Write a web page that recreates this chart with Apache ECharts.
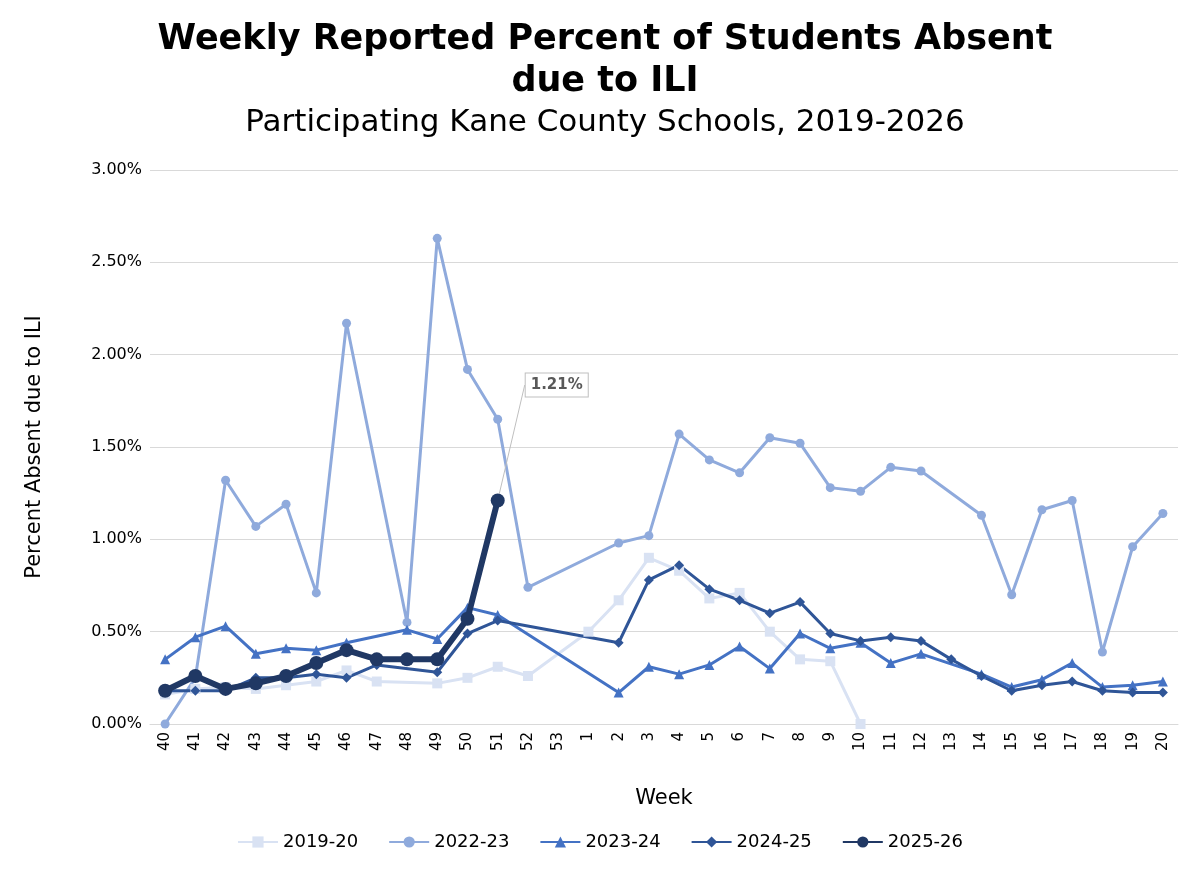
<!DOCTYPE html><html><head><meta charset="utf-8"><script src="https://cdn.jsdelivr.net/npm/echarts@6/dist/echarts.min.js"></script>
<style>body{margin:0;background:#fff}#c{width:1200px;height:872px}</style></head><body><div id="c"></div><script>
const weeks=['40','41','42','43','44','45','46','47','48','49','50','51','52','53','1','2','3','4','5','6','7','8','9','10','11','12','13','14','15','16','17','18','19','20'];
const s1920=[0.16,0.19,0.20,0.19,0.21,0.23,0.29,0.23,null,0.22,0.25,0.31,0.26,null,0.50,0.67,0.90,0.83,0.68,0.71,0.50,0.35,0.34,0.00,null,null,null,null,null,null,null,null,null,null];
const s2223=[0.00,0.25,1.32,1.07,1.19,0.71,2.17,null,0.55,2.63,1.92,1.65,0.74,null,null,0.98,1.02,1.57,1.43,1.36,1.55,1.52,1.28,1.26,1.39,1.37,null,1.13,0.70,1.16,1.21,0.39,0.96,1.14];
const s2324=[0.35,0.47,0.53,0.38,0.41,0.40,0.44,null,0.51,0.46,0.63,0.59,null,null,null,0.17,0.31,0.27,0.32,0.42,0.30,0.49,0.41,0.44,0.33,0.38,null,0.27,0.20,0.24,0.33,0.20,0.21,0.23];
const s2425=[0.18,0.18,0.18,0.25,0.25,0.27,0.25,0.32,null,0.28,0.49,0.56,null,null,null,0.44,0.78,0.86,0.73,0.67,0.60,0.66,0.49,0.45,0.47,0.45,0.35,0.26,0.18,0.21,0.23,0.18,0.17,0.17];
const s2526=[0.18,0.26,0.19,0.22,0.26,0.33,0.40,0.35,0.35,0.35,0.57,1.21];
const F='DejaVu Sans';
function ser(name,data,color,sym,size,w){return {name,type:'line',data:data.map(v=>v==null?null:v/100),connectNulls:true,symbol:sym,symbolSize:size,lineStyle:{width:w,color},itemStyle:{color},z:w};}
const last=ser('2025-26',s2526,'#203864','circle',14,6);
last.data[11]={value:s2526[11]/100,label:{show:true,formatter:'1.21%',position:[35,-120],fontFamily:F,fontSize:15,fontWeight:'bold',color:'#595959',backgroundColor:'#fff',borderColor:'#bfbfbf',borderWidth:1,padding:[4,5]},labelLine:{show:true,lineStyle:{color:'#bfbfbf',width:1}}};
const c=echarts.init(document.getElementById('c'));
c.setOption({animation:false,textStyle:{fontFamily:F},
title:[{text:'Weekly Reported Percent of Students Absent\ndue to ILI',left:600,textAlign:'center',top:14,textStyle:{fontFamily:F,fontSize:35,fontWeight:'bold',color:'#000',lineHeight:42}},
{text:'Participating Kane County Schools, 2019-2026',left:600,textAlign:'center',top:102,textStyle:{fontFamily:F,fontSize:31,fontWeight:'normal',color:'#000'}}],
legend:{bottom:16,left:'center',itemWidth:40,itemGap:30,textStyle:{fontSize:18,color:'#000'},data:['2019-20','2022-23','2023-24','2024-25','2025-26']},
grid:{left:150,right:22,top:170,bottom:148},
xAxis:{type:'category',data:weeks,boundaryGap:true,name:'Week',nameLocation:'middle',nameGap:64,nameTextStyle:{fontSize:21,color:'#000'},axisLabel:{rotate:90,fontSize:15,color:'#000',interval:0},axisTick:{show:false},axisLine:{lineStyle:{color:'#d9d9d9'}}},
yAxis:{type:'value',min:0,max:0.03,interval:0.005,name:'Percent Absent due to ILI',nameLocation:'middle',nameGap:105,nameTextStyle:{fontSize:21,color:'#000'},axisLabel:{fontSize:16,color:'#000',formatter:v=>(v*100).toFixed(2)+'%'},splitLine:{lineStyle:{color:'#d9d9d9'}}},
series:[ser('2019-20',s1920,'#d9e2f3','rect',10,3),ser('2022-23',s2223,'#8faadc','circle',9,3),ser('2023-24',s2324,'#4472c4','triangle',10,3),ser('2024-25',s2425,'#2f5597','diamond',10,3),last]});
</script></body></html>
